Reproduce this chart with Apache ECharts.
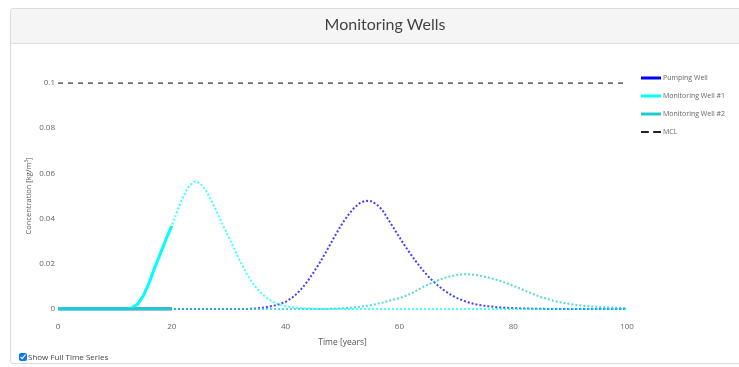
<!DOCTYPE html>
<html>
<head>
<meta charset="utf-8">
<script src="https://cdn.jsdelivr.net/npm/echarts@6/dist/echarts.min.js"></script>
<style>
  html, body { margin: 0; padding: 0; background: #fff; }
  #panel {
    position: absolute; left: 10px; top: 8px; width: 740px; height: 356px;
    border: 1px solid #dcdcdc; border-radius: 3px; box-sizing: border-box;
    background: #fff;
  }
  #panel .head {
    height: 34px; background: #f5f5f5; border-bottom: 1px solid #e0e0e0;
    border-radius: 3px 3px 0 0;
  }
  #chart { position: absolute; left: 0; top: 0; width: 739px; height: 367px; }
  #toggle {
    position: absolute; left: 19px; top: 351px; font-family: "Open Sans", sans-serif;
    font-size: 8px; color: #444; display: flex; align-items: center;
  }
  #toggle input { margin: 0 1px 0 0; width: 8px; height: 8px; }
</style>
</head>
<body>
<div id="panel"><div class="head"></div></div>
<div id="chart"></div>
<label id="toggle"><input type="checkbox" checked>Show Full Time Series</label>
<script>
// Concentration [kg/m³] per year, t = 0..100
const pumpingWell = [
  0,0,0,0,0,0,0,0,0,0, 0,0,0,0,0,0,0,0,0,0,
  0,0,0,0,0,0,0,0,0,0, 0,0,0,0,0.0001,0.0003,0.0006,0.001,0.0015,0.0022,
  0.0032,0.0047,0.0068,0.0095,0.0128,0.0165,0.0205,0.0248,0.0293,0.0338,
  0.038,0.0416,0.0446,0.0468,0.0479,0.0477,0.0463,0.0438,0.0398,0.0358,
  0.0318,0.0278,0.0242,0.0207,0.0175,0.0146,0.0121,0.0099,0.008,0.0064,
  0.005,0.0039,0.003,0.0023,0.0018,0.0014,0.0011,0.0008,0.0006,0.0005,
  0.0004,0.0003,0.0002,0.0002,0.0001,0.0001,0,0,0,0,
  0,0,0,0,0,0,0,0,0,0,
  0
];
const monitoringWell1 = [
  0,0,0,0,0,0,0,0,0,0, 0,0,0,0.0005,0.0022,0.0058,0.0115,0.0183,0.0245,0.031,
  0.0368,0.0435,0.0498,0.0544,0.0564,0.0556,0.0524,0.0478,0.0425,0.037,
  0.0318,0.0265,0.0212,0.0163,0.0122,0.0089,0.0063,0.0043,0.0029,0.0019,
  0.0012,0.0008,0.0005,0.0003,0.0002,0.0001,0,0,0,0,
  0,0,0,0,0,0,0,0,0,0, 0,0,0,0,0,0,0,0,0,0,
  0,0,0,0,0,0,0,0,0,0, 0,0,0,0,0,0,0,0,0,0,
  0,0,0,0,0,0,0,0,0,0, 0
];
const monitoringWell2 = [
  0,0,0,0,0,0,0,0,0,0, 0,0,0,0,0,0,0,0,0,0,
  0,0,0,0,0,0,0,0,0,0, 0,0,0,0,0,0,0,0,0,0,
  0,0,0,0,0,0,0,0,0.0001,0.0002,
  0.0003,0.0005,0.0007,0.001,0.0013,0.0017,0.0022,0.0028,0.0035,0.0042,
  0.0048,0.0057,0.0068,0.0081,0.0095,0.0108,0.0119,0.0129,0.0138,0.0145,
  0.015,0.0153,0.0154,0.0152,0.0148,0.0143,0.0137,0.013,0.0122,0.0113,
  0.0103,0.0093,0.0082,0.0071,0.0061,0.0052,0.0044,0.0037,0.0031,0.0026,
  0.0022,0.0018,0.0015,0.0013,0.0011,0.0009,0.0008,0.0007,0.0006,0.0005,
  0.0004
];
const mclLevel = 0.1;
const currentYear = 20;
const xTicks = { min: 0, max: 100, step: 20 };
const yTicks = { min: 0, max: 0.1, step: 0.02 };

const seriesNames = ['Pumping Well', 'Monitoring Well #1', 'Monitoring Well #2', 'MCL'];
const seriesColors = ['#0000ff', '#00ffff', '#1fcccc', '#222'];

const toPairs = arr => arr.map((v, t) => [t, v]);
const upToNow = arr => toPairs(arr).filter(p => p[0] <= currentYear);
const wells = [pumpingWell, monitoringWell1, monitoringWell2];

const solid = wells.map((arr, i) => ({
  name: seriesNames[i], type: 'line', data: upToNow(arr),
  symbol: 'none', z: 4, color: seriesColors[i],
  lineStyle: { width: 3, color: seriesColors[i] }
}));
const dotted = wells.map((arr, i) => ({
  name: seriesNames[i], type: 'line', data: toPairs(arr),
  symbol: 'none', z: 3, color: seriesColors[i],
  lineStyle: { width: 2, type: [2, 2], color: seriesColors[i], opacity: 0.75 }
}));
const mcl = {
  name: 'MCL', type: 'line', data: [[xTicks.min, mclLevel], [xTicks.max, mclLevel]],
  symbol: 'none', z: 2, color: seriesColors[3],
  lineStyle: { width: 1.3, type: [5, 5], color: seriesColors[3] }
};

// legend swatches: a solid bar for the wells, two short dashes for MCL
const barIcon = 'path://M0,0h20v3h-20z';
const dashIcon = 'path://M0,0h7v2h-7z M11,0h7v2h-7z';
const legendItems = seriesNames.map((n, i) => ({ name: n, icon: i === 3 ? dashIcon : barIcon }));

const chart = echarts.init(document.getElementById('chart'), null, { renderer: 'canvas' });
const axisFont = { fontFamily: 'Open Sans', fontSize: 8, color: '#666' };
chart.setOption({
  animation: false,
  title: {
    text: 'Monitoring Wells', left: 380, top: 12, textAlign: 'center',
    textStyle: { fontFamily: 'Lato', fontWeight: 'normal', fontSize: 16, color: '#444' }
  },
  grid: { left: 58, right: 112, top: 83, bottom: 58, containLabel: false },
  legend: {
    orient: 'vertical', left: 636, top: 68, itemWidth: 20, itemHeight: 3, itemGap: 8,
    data: legendItems,
    textStyle: { fontFamily: 'Open Sans', fontSize: 7, lineHeight: 10, color: '#666', padding: [0, 0, 0, -3] }
  },
  xAxis: {
    type: 'value', min: xTicks.min, max: xTicks.max, interval: xTicks.step,
    name: 'Time [years]', nameLocation: 'middle', nameGap: 29, nameMoveOverlap: false,
    nameTextStyle: { fontFamily: 'Open Sans', fontSize: 8.5, color: '#555' },
    axisLine: { show: false }, axisTick: { show: false }, splitLine: { show: false },
    axisLabel: Object.assign({ margin: 14 }, axisFont)
  },
  yAxis: {
    type: 'value', min: yTicks.min, max: yTicks.max, interval: yTicks.step,
    name: 'Concentration [kg/m³]', nameLocation: 'middle', nameGap: 25, nameRotate: 90,
    nameMoveOverlap: false,
    nameTextStyle: { fontFamily: 'Open Sans', fontSize: 7.5, color: '#555' },
    axisLine: { show: false }, axisTick: { show: false }, splitLine: { show: false },
    axisLabel: Object.assign({ margin: 3 }, axisFont)
  },
  series: [...solid, mcl, ...dotted]
});
</script>
</body>
</html>
